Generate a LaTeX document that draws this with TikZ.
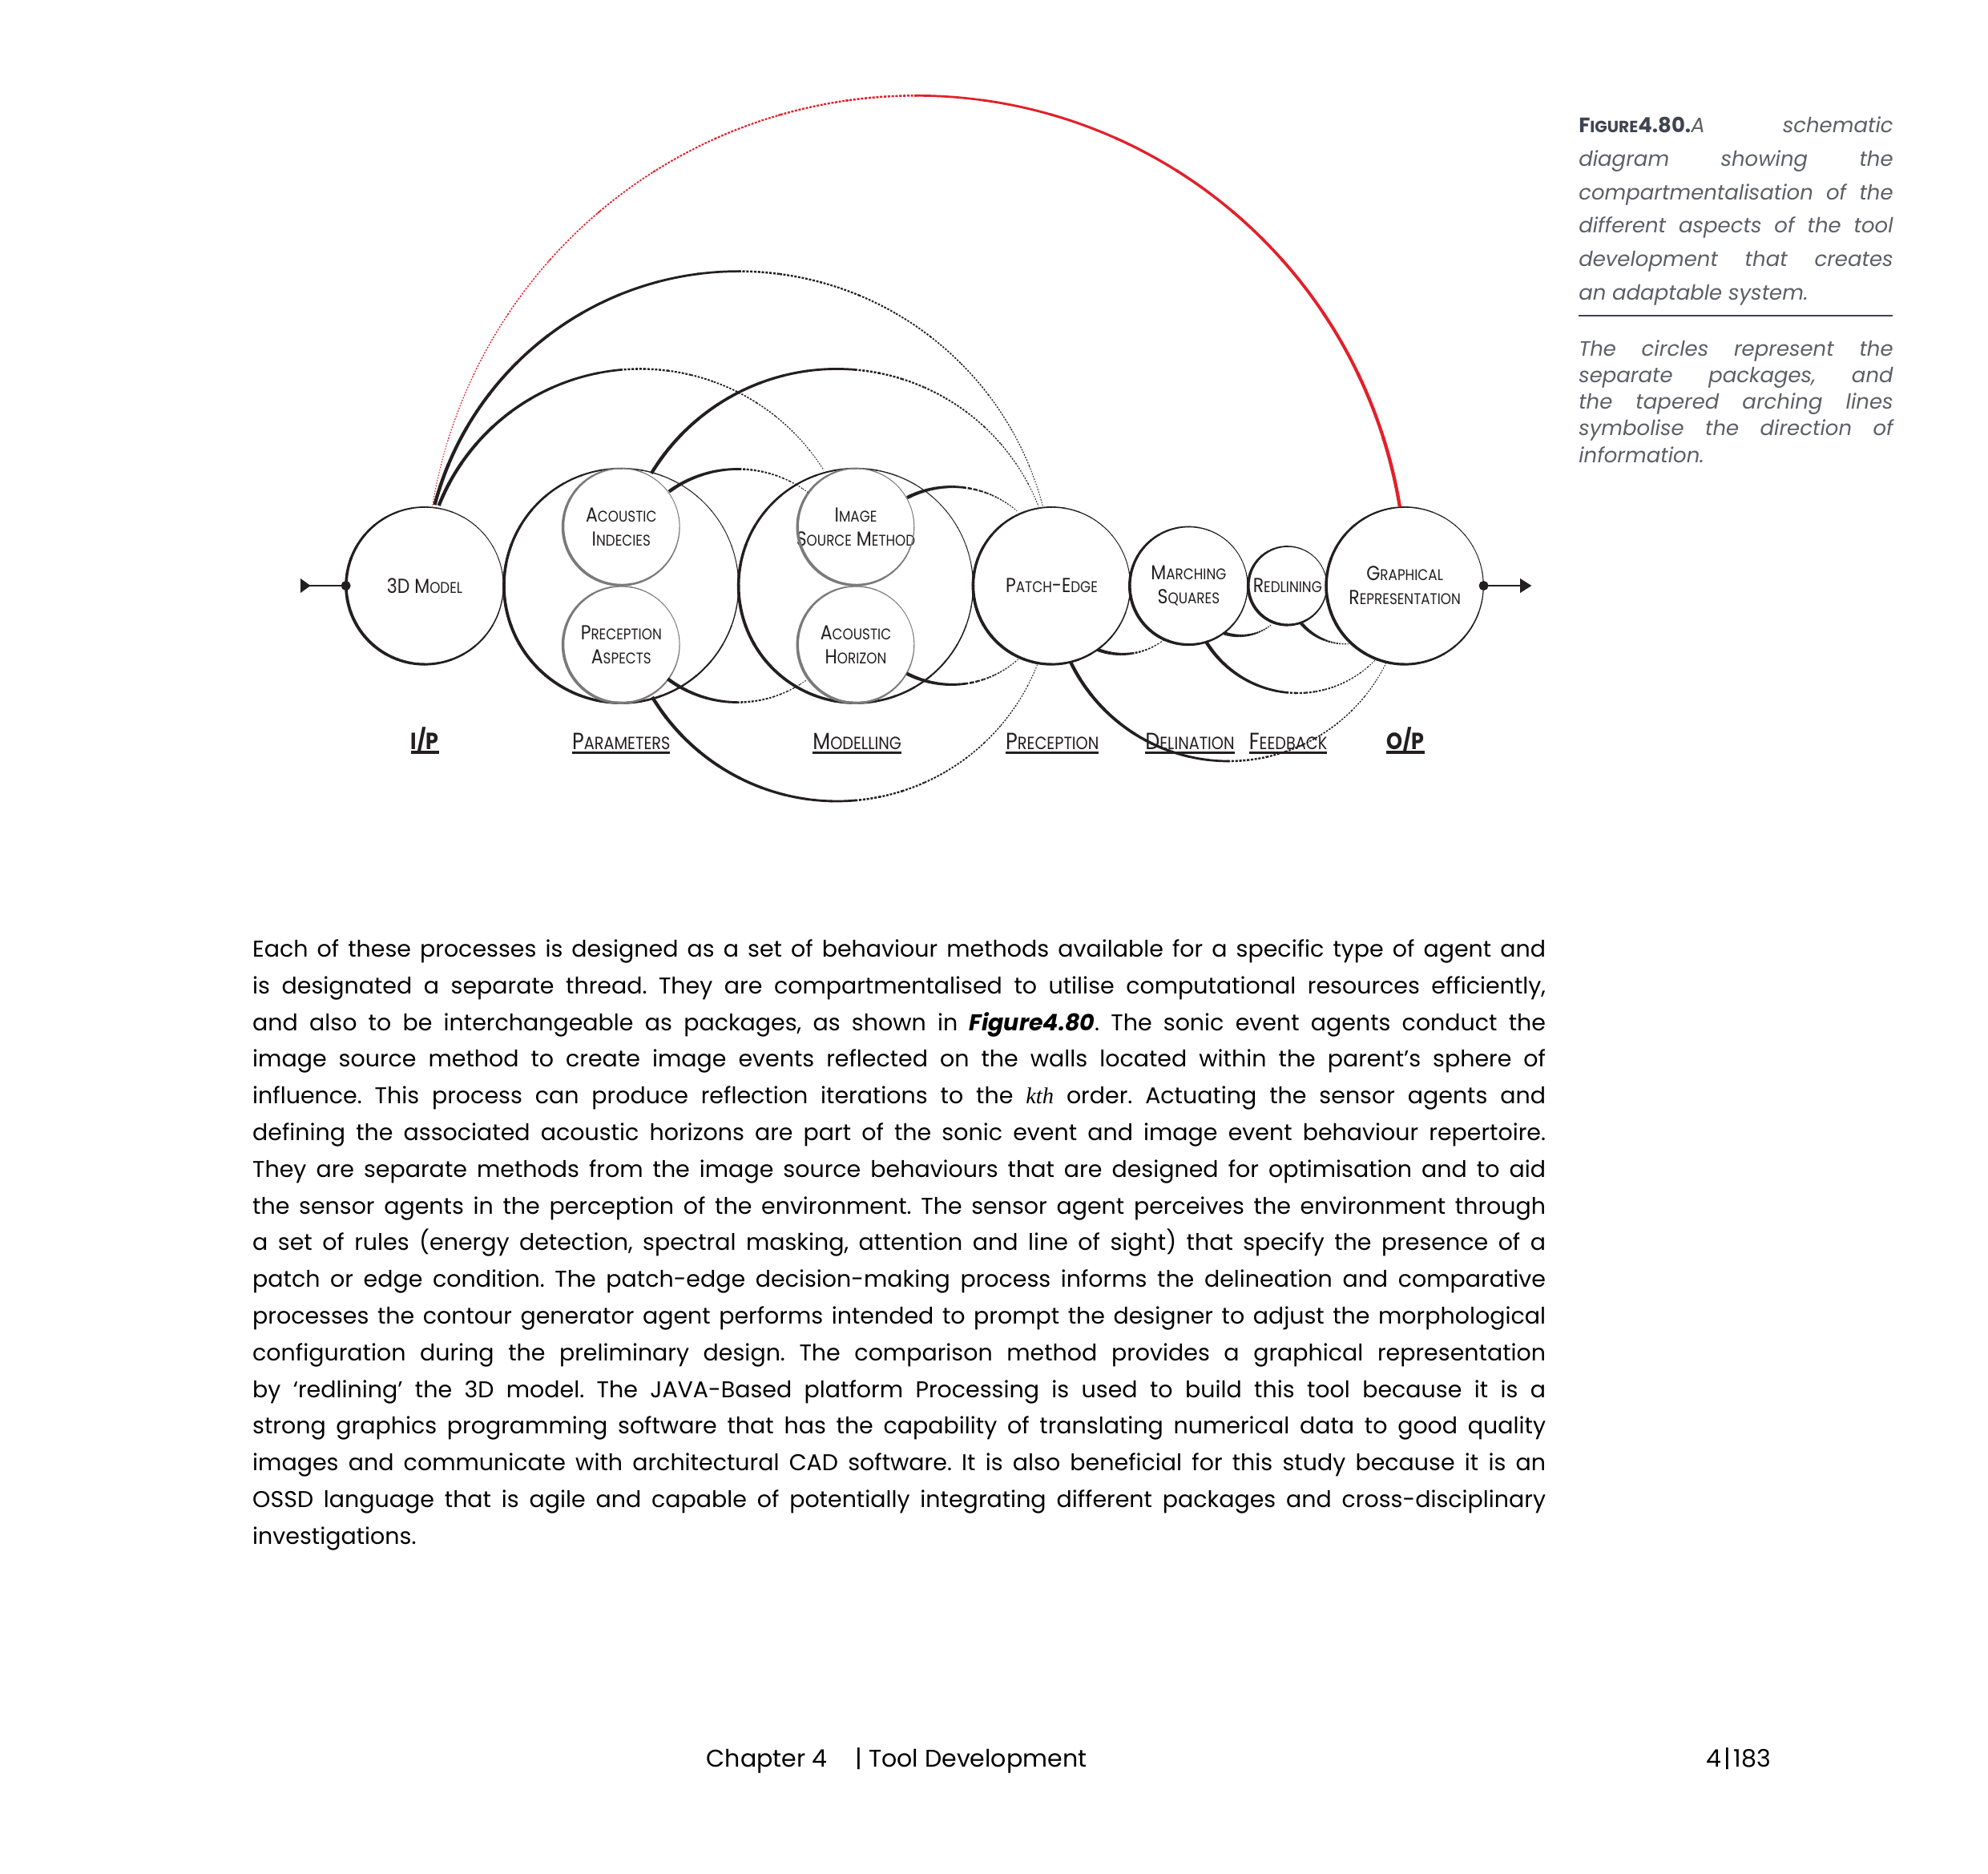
\documentclass[tikz,border=0pt]{standalone}
\usepackage{fontspec}
\setmainfont{Poppins}
\newfontfamily\dfont{Poppins}[FakeStretch=0.87]
\newfontfamily\kthfont{Liberation Serif}
\usetikzlibrary{calc,arrows.meta}
\definecolor{ink}{HTML}{231F20}
\definecolor{ringgray}{HTML}{7A7A7A}
\definecolor{redarc}{HTML}{E2202A}
\definecolor{capgray}{HTML}{5B5F66}
\definecolor{capdark}{HTML}{3E4450}
\newcommand\csmall[1]{{\fontsize{12.2pt}{12pt}\selectfont #1}}
\newcommand\lsmall[1]{{\fontsize{14pt}{14pt}\selectfont #1}}
\newcommand\ulin[2][1.5pt]{\setbox0\hbox{#2}\rlap{\rule[-3.4pt]{\wd0}{#1}}\box0}
\newcommand\bodyfont{\fontsize{18}{28.94}\selectfont\frenchspacing}
\newcommand\capfontA{\fontsize{16.4}{26.4}\selectfont\itshape\frenchspacing}
\newcommand\capfontB{\fontsize{16.4}{21}\selectfont\itshape\frenchspacing}
% tapered ring: center, radius, colour, base width
\newcommand\dring[4]{%
  \foreach \k in {0,...,35}{%
    \pgfmathsetmacro\ta{\k*10}%
    \pgfmathsetmacro\tb{\k*10+10.5}%
    \pgfmathsetmacro\tw{#4*(1+0.6*cos(\k*10+5-150))}%
    \draw[#3, line width=\tw pt] ($(#1)+(\ta:#2)$) arc[start angle=\ta, end angle=\tb, radius=#2];
  }}
% tapered arc: colour, center, radius, start angle (thick end), end angle
\newcommand\dtaper[5]{%
  \foreach \k in {0,...,19}{%
    \pgfmathsetmacro\ta{#4+(#5-(#4))*\k/20}%
    \pgfmathsetmacro\tb{#4+(#5-(#4))*(\k+1.04)/20}%
    \pgfmathsetmacro\tw{2.7-0.11*\k}%
    \pgfmathsetmacro\don{0.5+0.9*\tw}%
    \ifnum\k<10\relax
      \draw[#1, line width=\tw pt] ($(#2)+(\ta:#3)$) arc[start angle=\ta, end angle=\tb, radius=#3];
    \else
      \draw[#1, line width=\tw pt, dash pattern=on \don pt off 1.1pt] ($(#2)+(\ta:#3)$) arc[start angle=\ta, end angle=\tb, radius=#3];
    \fi
  }}
\tikzset{
  pkg/.style={circle, inner sep=0pt, align=center, text=ink, font=\dfont\fontsize{16}{19}\selectfont},
  lbl/.style={anchor=base, inner sep=0pt, text=ink, font=\dfont\fontsize{18.5}{20}\selectfont},
}
\begin{document}
\begin{tikzpicture}[x=1pt, y=-1pt, line cap=butt]
\fill[white] (0,0) rectangle (1568,1478);
\useasboundingbox (0,0) rectangle (1568,1478);

% ---------- packages ----------
\node[pkg, minimum size=124pt] (m3d) at (335,462) {3D M\csmall{ODEL}};
\node[pkg, minimum size=185pt] (npar) at (490,462) {};
\node[pkg, minimum size=92pt] (nai) at (490,415.5) {A\csmall{COUSTIC}\\I\csmall{NDECIES}};
\node[pkg, minimum size=92pt] (npa) at (490,508.5) {P\csmall{RECEPTION}\\A\csmall{SPECTS}};
\node[pkg, minimum size=185pt] (nmod) at (675,462) {};
\node[pkg, minimum size=92pt] (nism) at (675,415.5) {I\csmall{MAGE}\\S\csmall{OURCE} M\csmall{ETHOD}};
\node[pkg, minimum size=92pt] (nah) at (675,508.5) {A\csmall{COUSTIC}\\H\csmall{ORIZON}};
\node[pkg, minimum size=124pt] (npe) at (829.5,462) {P\csmall{ATCH}-E\csmall{DGE}};
\node[pkg, minimum size=93pt] (nms) at (937.5,462) {M\csmall{ARCHING}\\S\csmall{QUARES}};
\node[pkg, minimum size=62pt] (nrl) at (1015.5,462) {R\csmall{EDLINING}};
\node[pkg, minimum size=124pt] (ngr) at (1108,462) {G\csmall{RAPHICAL}\\R\csmall{EPRESENTATION}};

\dring{m3d}{62}{ink}{1.5}
\dring{npar}{92.5}{ink}{1.5}
\dring{nmod}{92.5}{ink}{1.5}
\dring{nai}{46}{ringgray}{1.45}
\dring{npa}{46}{ringgray}{1.45}
\dring{nism}{46}{ringgray}{1.45}
\dring{nah}{46}{ringgray}{1.45}
\dring{npe}{62}{ink}{1.5}
\dring{nms}{46.5}{ink}{1.5}
\dring{nrl}{31}{ink}{1.5}
\dring{ngr}{62}{ink}{1.5}

% ---------- arc centres ----------
\coordinate (cR) at (722.5,462);
\coordinate (c2) at (582.5,462);
\coordinate (c3) at (505,462);
\coordinate (c4) at (660,462);
\coordinate (c6) at (582,462);
\coordinate (c5) at (751,462);
\coordinate (c7) at (885,462);
\coordinate (c8) at (978,462);
\coordinate (c9) at (1061.5,462);
\coordinate (c10) at (1023.5,462);
\coordinate (c11) at (969,462);

% ---------- tapered arcs ----------
\dtaper{redarc}{cR}{386.6}{-9.25}{-170.5}
\dtaper{ink}{c2}{248}{-165.1}{-14.9}
\dtaper{ink}{c3}{171}{-158.3}{-32.4}
\dtaper{ink}{c4}{171}{-148.8}{-21.7}
\dtaper{ink}{c4}{170}{148.9}{21.3}
\dtaper{ink}{c6}{92}{-126.2}{-52.6}
\dtaper{ink}{c6}{92}{127}{54.1}
\dtaper{ink}{c5}{78}{-117.1}{-49.3}
\dtaper{ink}{c5}{78}{117.3}{46.9}
\dtaper{ink}{c7}{54}{111}{52.7}
\dtaper{ink}{c8}{39.5}{108.5}{50.6}
\dtaper{ink}{c9}{46}{140.9}{85.7}
\dtaper{ink}{c10}{84.7}{148.3}{44}
\dtaper{ink}{c11}{138.4}{154.3}{26.3}

% ---------- input / output ----------
\coordinate (inL) at (237,462);
\coordinate (outR) at (1208,462);
\draw[ink, line width=1.5pt, {Triangle[reversed,length=8pt,width=11pt]}-{Circle[length=7.5pt]}] (inL) -- ([xshift=3.75pt]m3d.west);
\draw[ink, line width=1.5pt, {Circle[length=7.5pt]}-{Triangle[length=9pt,width=11pt]}] ([xshift=-3.75pt]ngr.east) -- (outR);

% ---------- labels ----------
\node[lbl] (lip) at (335,591) {\ulin[2.2pt]{\bfseries I/P}};
\node[lbl] (lpar) at (490,591) {\ulin{P\lsmall{ARAMETERS}}};
\node[lbl] (lmod) at (676,591) {\ulin{M\lsmall{ODELLING}}};
\node[lbl] (lpre) at (830,591) {\ulin{P\lsmall{RECEPTION}}};
\node[lbl] (ldel) at (938.5,591) {\ulin{D\lsmall{ELINATION}}};
\node[lbl] (lfb) at (1016,591) {\ulin{F\lsmall{EEDBACK}}};
\node[lbl] (lop) at (1108.5,591) {\ulin[2.2pt]{\bfseries O/P}};

% ---------- caption ----------
\node[anchor=north west, inner sep=0pt, text width=248pt, align=justify, text=capgray,
      font=\capfontA] (cap1) at (1245,92) {%
{\upshape\bfseries\color{capdark}F{\fontsize{12.8}{12}\selectfont IGURE}4.80.}A schematic\linebreak
diagram showing the\linebreak
compartmentalisation of the\linebreak
different aspects of the tool\linebreak
development that creates\linebreak
an adaptable system.};
\coordinate (ruleL) at (1245,249);
\coordinate (ruleR) at (1493,249);
\draw[capdark, line width=1.5pt] (ruleL) -- (ruleR);
\node[anchor=north west, inner sep=0pt, text width=248pt, align=justify, text=capgray,
      font=\capfontB] (cap2) at (1245,268) {%
The circles represent the\linebreak
separate packages, and\linebreak
the tapered arching lines\linebreak
symbolise the direction of\linebreak
information.};

% ---------- body text ----------
\node[anchor=north west, inner sep=0pt, text width=1020pt, align=justify, text=black,
      font=\bodyfont] (body) at (199,741) {%
Each of these processes is designed as a set of behaviour methods available for a specific type of agent and\linebreak
is designated a separate thread. They are compartmentalised to utilise computational resources efficiently,\linebreak
and also to be interchangeable as packages, as shown in \textbf{\textit{Figure4.80}}. The sonic event agents conduct the\linebreak
image source method to create image events reflected on the walls located within the parent’s sphere of\linebreak
influence. This process can produce reflection iterations to the {\kthfont\itshape kth} order. Actuating the sensor agents and\linebreak
defining the associated acoustic horizons are part of the sonic event and image event behaviour repertoire.\linebreak
They are separate methods from the image source behaviours that are designed for optimisation and to aid\linebreak
the sensor agents in the perception of the environment. The sensor agent perceives the environment through\linebreak
a set of rules (energy detection, spectral masking, attention and line of sight) that specify the presence of a\linebreak
patch or edge condition. The patch-edge decision-making process informs the delineation and comparative\linebreak
processes the contour generator agent performs intended to prompt the designer to adjust the morphological\linebreak
configuration during the preliminary design. The comparison method provides a graphical representation\linebreak
by ‘redlining’ the 3D model. The JAVA-Based platform Processing is used to build this tool because it is a\linebreak
strong graphics programming software that has the capability of translating numerical data to good quality\linebreak
images and communicate with architectural CAD software. It is also beneficial for this study because it is an\linebreak
OSSD language that is agile and capable of potentially integrating different packages and cross-disciplinary\linebreak
investigations.};

% ---------- footer ----------
\node[anchor=base west, inner sep=0pt, font=\fontsize{19}{20}\selectfont] (foot) at (557,1394) {Chapter 4\hspace{22pt}| Tool Development};
\node[anchor=base east, inner sep=0pt, font=\fontsize{19}{20}\selectfont] (pageno) at (1397,1394) {4\hspace{2pt}|\hspace{2pt}183};
\end{tikzpicture}
\end{document}
